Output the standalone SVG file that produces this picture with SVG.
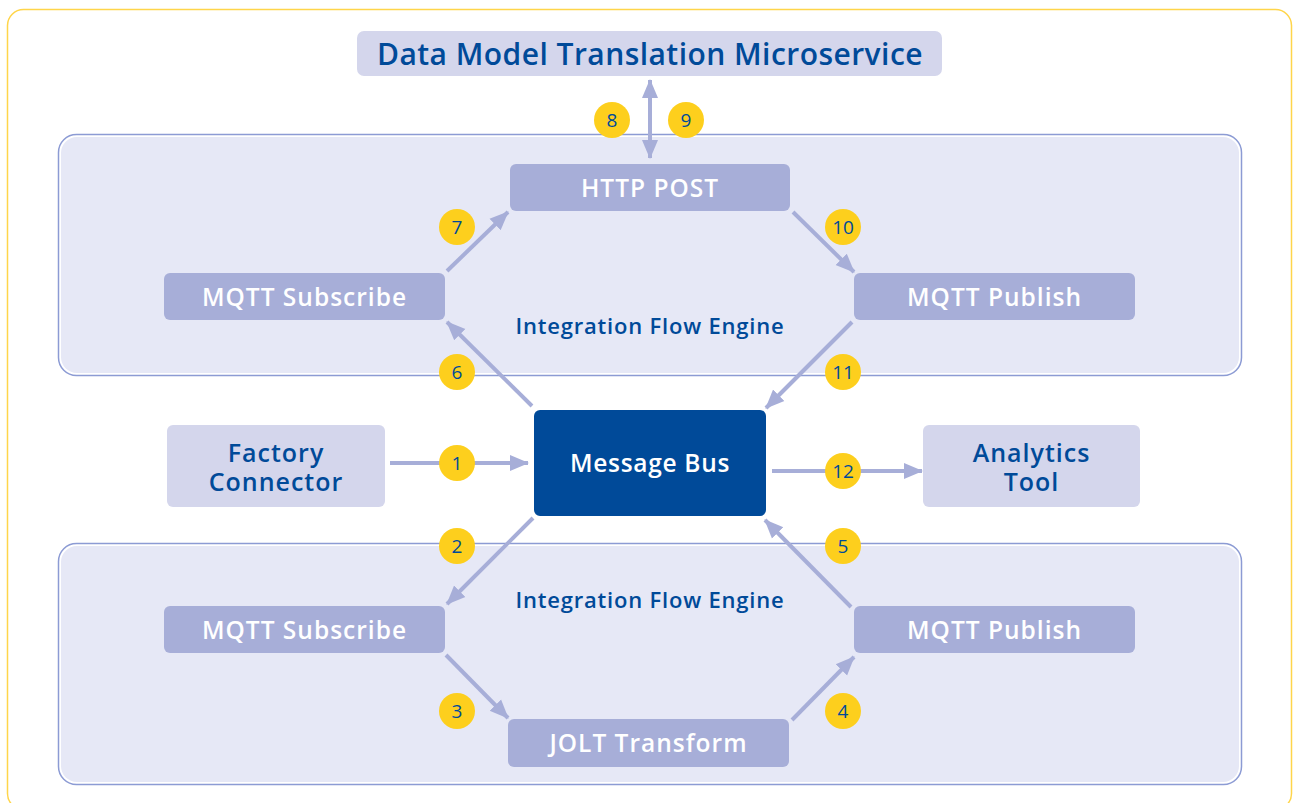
<svg xmlns="http://www.w3.org/2000/svg" width="1293" height="803" viewBox="0 0 1293 803">
<style>
.panel{fill:#e6e8f6}
.panelb{fill:none;stroke:#8c9bd4;stroke-width:1.5}
.step{fill:#a7aed8}
.ext{fill:#d4d6ec}
.wt{font-family:"Open Sans","Noto Sans",sans-serif;font-size:24.5px;letter-spacing:1px;font-weight:600;fill:#ffffff;text-anchor:middle}
.bt{font-family:"Open Sans","Noto Sans",sans-serif;font-size:25px;letter-spacing:1px;font-weight:600;fill:#004a99;text-anchor:middle}
.lbl{font-family:"Open Sans","Noto Sans",sans-serif;font-size:22px;letter-spacing:0.8px;font-weight:600;fill:#004a99;text-anchor:middle}
.conn{stroke:#a7aed8;stroke-width:4;fill:none}
.badge circle{fill:#fdcf1d}
.badge text{font-family:"Open Sans","Noto Sans",sans-serif;font-size:19px;fill:#004a99;text-anchor:middle}
</style>
<defs>
<marker id="ah" markerUnits="userSpaceOnUse" markerWidth="20" markerHeight="20" viewBox="0 0 20 20" refX="18" refY="10" orient="auto-start-reverse">
<path d="M0,2 L19,10 L0,18 Z" fill="#a7aed8"/>
</marker>
</defs>
<rect x="0" y="0" width="1293" height="803" fill="#ffffff"/>
<rect id="frame" x="7.5" y="9.5" width="1284" height="800" rx="16" fill="none" stroke="#ffd54a" stroke-width="1.5"/>
<g id="panel-top">
<rect class="panelb" x="58.5" y="134.5" width="1183" height="241" rx="18"/>
<rect class="panel" x="61" y="137" width="1178" height="236" rx="16"/>
<text class="lbl" x="650" y="334">Integration Flow Engine</text>
</g>
<g id="panel-bottom">
<rect class="panelb" x="58.5" y="543.5" width="1183" height="241" rx="18"/>
<rect class="panel" x="61" y="546" width="1178" height="236" rx="16"/>
<text class="lbl" x="650" y="608">Integration Flow Engine</text>
</g>
<g id="dmt">
<rect class="ext" x="357" y="31" width="585" height="45" rx="7"/>
<text class="bt" x="650" y="65" style="font-size:30px;letter-spacing:0.45px">Data Model Translation Microservice</text>
</g>
<g id="http-post">
<rect class="step" x="510" y="164" width="280" height="47" rx="6"/>
<text class="wt" x="650" y="197">HTTP POST</text>
</g>
<g id="mqtt-sub-top">
<rect class="step" x="164" y="273" width="281" height="47" rx="6"/>
<text class="wt" x="304.5" y="306">MQTT Subscribe</text>
</g>
<g id="mqtt-pub-top">
<rect class="step" x="854" y="273" width="281" height="47" rx="6"/>
<text class="wt" x="994.5" y="306">MQTT Publish</text>
</g>
<g id="message-bus">
<rect x="534" y="410" width="232" height="106" rx="6" fill="#004a99"/>
<text class="wt" x="650" y="472" style="letter-spacing:0.7px">Message Bus</text>
</g>
<g id="factory-connector">
<rect class="ext" x="167" y="425" width="218" height="82" rx="6"/>
<text class="bt" x="276" y="462">Factory</text>
<text class="bt" x="276" y="491">Connector</text>
</g>
<g id="analytics-tool">
<rect class="ext" x="923" y="425" width="217" height="82" rx="6"/>
<text class="bt" x="1031.5" y="462">Analytics</text>
<text class="bt" x="1031.5" y="491">Tool</text>
</g>
<g id="mqtt-sub-bottom">
<rect class="step" x="164" y="606" width="281" height="47" rx="6"/>
<text class="wt" x="304.5" y="639">MQTT Subscribe</text>
</g>
<g id="mqtt-pub-bottom">
<rect class="step" x="854" y="606" width="281" height="47" rx="6"/>
<text class="wt" x="994.5" y="639">MQTT Publish</text>
</g>
<g id="jolt">
<rect class="step" x="508" y="719" width="281" height="48" rx="6"/>
<text class="wt" x="648.5" y="752">JOLT Transform</text>
</g>
<g id="connectors">
<line class="conn" x1="650" y1="80" x2="650" y2="158" marker-start="url(#ah)" marker-end="url(#ah)"/>
<line class="conn" x1="390" y1="463" x2="528" y2="463" marker-end="url(#ah)"/>
<line class="conn" x1="772" y1="471" x2="922" y2="471" marker-end="url(#ah)"/>
<line class="conn" x1="532" y1="406" x2="447" y2="322" marker-end="url(#ah)"/>
<line class="conn" x1="447" y1="271" x2="508" y2="212" marker-end="url(#ah)"/>
<line class="conn" x1="793" y1="212" x2="854" y2="272" marker-end="url(#ah)"/>
<line class="conn" x1="852" y1="322" x2="766" y2="408" marker-end="url(#ah)"/>
<line class="conn" x1="533" y1="518" x2="447" y2="604" marker-end="url(#ah)"/>
<line class="conn" x1="446" y1="655" x2="508" y2="718" marker-end="url(#ah)"/>
<line class="conn" x1="792" y1="720" x2="854" y2="657" marker-end="url(#ah)"/>
<line class="conn" x1="851" y1="607" x2="765" y2="520" marker-end="url(#ah)"/>
</g>
<g id="badges">
<g class="badge"><circle cx="457" cy="463" r="18"/><text x="457" y="470">1</text></g>
<g class="badge"><circle cx="457" cy="546" r="18"/><text x="457" y="553">2</text></g>
<g class="badge"><circle cx="457" cy="711" r="18"/><text x="457" y="718">3</text></g>
<g class="badge"><circle cx="843" cy="711" r="18"/><text x="843" y="718">4</text></g>
<g class="badge"><circle cx="843" cy="546" r="18"/><text x="843" y="553">5</text></g>
<g class="badge"><circle cx="457" cy="372" r="18"/><text x="457" y="379">6</text></g>
<g class="badge"><circle cx="457" cy="227" r="18"/><text x="457" y="234">7</text></g>
<g class="badge"><circle cx="612" cy="120" r="18"/><text x="612" y="127">8</text></g>
<g class="badge"><circle cx="686" cy="120" r="18"/><text x="686" y="127">9</text></g>
<g class="badge"><circle cx="843" cy="227" r="18"/><text x="843" y="234">10</text></g>
<g class="badge"><circle cx="843" cy="372" r="18"/><text x="843" y="379">11</text></g>
<g class="badge"><circle cx="843" cy="471" r="18"/><text x="843" y="478">12</text></g>
</g>
</svg>
